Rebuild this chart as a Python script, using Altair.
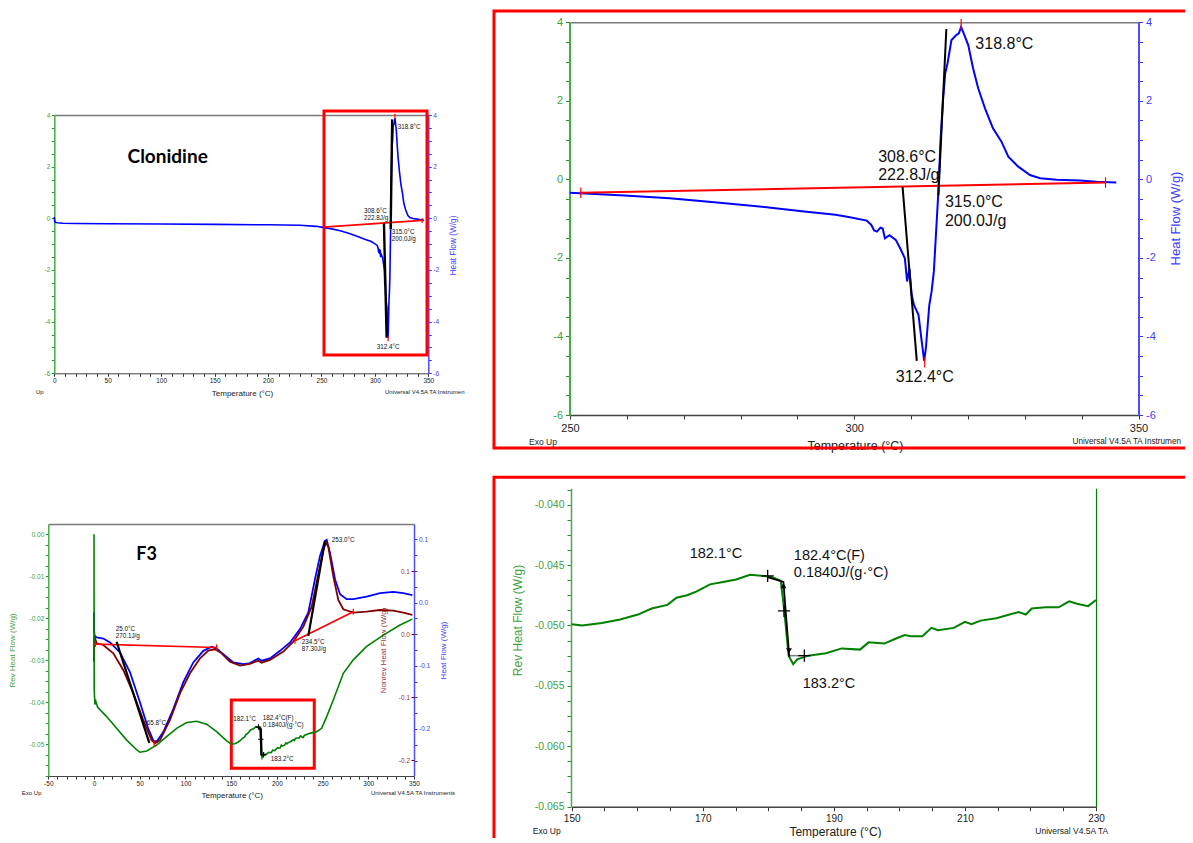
import altair as alt
import pandas as pd

W, H, M = 1177, 830, 8
FONT = "Liberation Sans"
TITLE_FONT = "Lato"

GREEN = "#008000"
GREEN_DOM = "#45ad45"
GREEN_LAB = "#3f9f3f"
BLUE = "#0000ff"
BLUE_DOM = "#4d4dff"
BLUE_LAB = "#4040ff"
DRED = "#800000"
DRED_LAB = "#a03434"
RED = "#ff0000"

# ---------------- Clonidine: Heat Flow (W/g) vs Temperature (°C) ----------------
clon_temp = [0.0, 0.3, 1.0, 3.0, 8.0, 20.0, 50.0, 100.0, 150.0, 200.0,
             230.0, 245.0, 250.0, 259.6, 267.5, 275.4, 283.3, 291.2, 296.7, 299.0,
             302.2, 303.0, 303.5, 304.0, 304.6, 305.0, 305.4, 306.2, 307.3, 308.1,
             308.9, 309.3, 309.7, 310.1, 310.5, 311.3, 311.8, 312.3, 312.6, 313.2,
             313.6, 314.0, 314.4, 314.8, 315.2, 315.6, 316.0, 316.4, 317.1, 318.0,
             318.4, 318.8, 319.3, 320.05, 320.9, 321.8, 323.0, 324.4, 325.9, 327.1,
             328.8, 330.9, 332.7, 335.6, 339.7, 342.6, 346.1]
clon_hf = [0.05, -0.10, -0.15, -0.17, -0.19, -0.20, -0.21, -0.22, -0.235, -0.25,
           -0.27, -0.31, -0.34, -0.41, -0.48, -0.58, -0.69, -0.82, -0.90, -0.96,
           -1.05, -1.16, -1.30, -1.33, -1.23, -1.25, -1.50, -1.42, -1.54, -1.76,
           -2.01, -2.60, -2.27, -2.94, -3.20, -3.45, -4.05, -4.62, -4.30, -3.20,
           -2.86, -2.35, -1.33, -0.31, 1.05, 2.00, 2.70, 2.95, 3.55, 3.68,
           3.72, 3.88, 3.70, 3.42, 2.83, 2.32, 1.81, 1.30, 0.96, 0.58,
           0.33, 0.11, 0.03, -0.01, -0.03, -0.06, -0.08]
clon_base_temp = [251.9, 344.2]
clon_base_hf = [-0.34, -0.08]
clon_tan_temp = [308.5, 311.0, 314.8, 316.2]
clon_tan_hf = [-0.19, -4.62, -0.41, 3.83]
clon_tan_grp = ["a", "a", "b", "b"]
clon_mark_temp = [251.9, 344.2, 312.4, 318.8]
clon_mark_hf = [-0.34, -0.08, -4.66, 3.95]
clon_labels = ["318.8°C", "308.6°C", "222.8J/g", "315.0°C", "200.0J/g", "312.4°C"]
tl_label_temp = [321.4, 289.8, 289.8, 315.7, 315.7, 301.7]
tl_label_hf = [3.55, 0.295, 0.024, -0.52, -0.79, -4.97]
tr_label_temp = [321.3, 304.2, 304.2, 315.95, 315.95, 307.3]
tr_label_hf = [3.44, 0.58, 0.10, -0.57, -1.06, -5.03]

# ---------------- F3: Rev / Nonrev / total heat flow ----------------
f3_rev_temp = ([0.0, 0.2, 1.0, 2.0, 4.0, 13.8, 24.7, 35.7, 46.6, 50.3,
                57.6, 68.5, 79.4, 90.4, 101.3, 112.3, 123.2, 134.1, 145.1]
               + [150.0, 151.6, 154.6, 157.4, 160.1, 162.2, 164.6, 166.0, 167.6, 169.0,
                  171.1, 173.1, 175.1, 177.2, 179.3, 180.6, 181.9, 182.4, 183.1, 183.8,
                  184.4, 186.1, 188.8, 191.2, 194.0, 195.3, 197.7, 199.4, 200.8, 201.8,
                  203.5, 204.9, 205.9, 208.3, 210.0, 211.0, 212.4, 214.8, 216.8, 218.2,
                  219.3, 220.2, 222.3, 224.3, 225.9, 227.1, 228.8, 230.0]
               + [236.0, 243.5, 249.0, 254.5, 261.8, 272.7, 283.6, 298.2, 316.5, 334.7, 348.2])
f3_rev_flow = ([0.0, -0.0370, -0.0405, -0.0398, -0.0412, -0.0434, -0.0462, -0.0490, -0.0513, -0.0519,
                -0.0516, -0.0502, -0.0482, -0.0462, -0.0448, -0.0445, -0.0452, -0.0470, -0.0492]
               + [-0.0499, -0.0500, -0.0498, -0.0495, -0.0491, -0.0486, -0.0483, -0.0477, -0.0475, -0.0472,
                  -0.0466, -0.0464, -0.0462, -0.0458, -0.0459, -0.0460, -0.0463, -0.0486, -0.0525, -0.0532,
                  -0.0528, -0.0525, -0.0523, -0.0519, -0.0520, -0.0514, -0.0515, -0.0511, -0.0508, -0.0509,
                  -0.0509, -0.0502, -0.0504, -0.0502, -0.0497, -0.0499, -0.0496, -0.0494, -0.0491, -0.0489,
                  -0.0491, -0.0486, -0.0485, -0.0485, -0.0480, -0.0482, -0.0484, -0.0479]
               + [-0.0474, -0.0470, -0.0462, -0.0434, -0.0394, -0.0331, -0.0299, -0.0267, -0.0240, -0.0216, -0.0202])
f3_hf_temp = [0.0, 0.1, 0.7, 2.9, 10.2, 17.5, 28.4, 39.3, 50.3, 59.4,
              64.9, 68.5, 75.8, 86.7, 97.7, 108.6, 119.6, 128.7, 134.1, 141.4,
              152.4, 163.3, 170.6, 179.7, 183.4, 192.5, 203.4, 214.4, 225.3, 234.4,
              241.7, 247.2, 252.6, 254.5, 258.1, 263.6, 269.1, 276.3, 283.6, 298.2,
              312.8, 327.4, 338.3, 348.2]
f3_hf = [-0.0158, -0.0450, -0.0527, -0.0553, -0.0569, -0.0632, -0.0790, -0.1100, -0.1580, -0.2000,
         -0.2185, -0.2200, -0.2050, -0.1685, -0.1260, -0.0948, -0.0764, -0.0700, -0.0727, -0.0816,
         -0.0948, -0.0974, -0.0958, -0.0885, -0.0920, -0.0885, -0.0764, -0.0632, -0.0421, -0.0158,
         0.0369, 0.0737, 0.0974, 0.0990, 0.0790, 0.0369, 0.0132, 0.0053, 0.0053, 0.0095,
         0.0147, 0.0168, 0.0147, 0.0116]
f3_nonrev_temp = [0.0, 0.1, 2.9, 10.2, 21.1, 32.0, 43.0, 53.9, 63.0, 66.7,
                  72.2, 83.1, 94.0, 105.0, 116.0, 125.0, 132.3, 139.6, 148.7, 159.7,
                  170.6, 179.7, 183.4, 192.5, 207.1, 218.0, 229.0, 238.1, 245.4, 250.8,
                  253.7, 256.3, 261.8, 267.2, 272.7, 283.6, 298.2, 312.8, 327.4, 338.3, 348.2]
f3_nonrev = [-0.0434, -0.0020, -0.0143, -0.0169, -0.0302, -0.0566, -0.0937, -0.1360, -0.1680, -0.1730,
             -0.1680, -0.1360, -0.0937, -0.0619, -0.0381, -0.0259, -0.0238, -0.0302, -0.0434, -0.0497,
             -0.0471, -0.0418, -0.0450, -0.0407, -0.0275, -0.0116, 0.0122, 0.0439, 0.0968, 0.1340,
             0.1455, 0.1390, 0.0915, 0.0545, 0.0397, 0.0344, 0.0360, 0.0386, 0.0376, 0.0344, 0.0307]
f3_base_temp = [1.5, 134.1, 219.8, 283.6]
f3_base_hf = [-0.0658, -0.0711, -0.0606, -0.0147]
f3_base_grp = ["a", "a", "b", "b"]
f3_tan_temp = [24.7, 60.5, 234.4, 252.6]
f3_tan_hf = [-0.0621, -0.2220, -0.0527, 0.0974]
f3_tan_grp = ["a", "a", "b", "b"]
f3_mark_temp = [1.5, 134.1, 219.8, 283.6, 65.8]
f3_mark_hf = [-0.0658, -0.0711, -0.0606, -0.0147, -0.2230]
f3_labels = ["25.0°C", "270.1J/g", "65.8°C", "182.1°C", "182.4°C(F)", "0.1840J/(g·°C)",
             "183.2°C", "253.0°C", "234.5°C", "87.30J/g"]
f3_label_temp = [23.7, 23.7, 57.6, 152.3, 184.5, 184.5, 193.2, 260.0, 227.2, 227.2]
f3_label_hf = [-0.0422, -0.0532, -0.191, -0.184, -0.1828, -0.1934, -0.2475, 0.0989, -0.0622, -0.0738]

# glass transition construction (rev heat flow)
tg_line_temp = [179.9, 182.3, 183.2]
tg_line_flow = [-0.0460, -0.0464, -0.0526]
tg_step_temp = [183.2, 185.4]
tg_step_flow = [-0.0525, -0.0525]
tg_cross_temp = [179.9, 182.4, 185.5]
tg_cross_flow = [-0.0459, -0.0488, -0.0525]
tg_up_temp, tg_up_flow = [182.3], [-0.0467]
tg_down_temp, tg_down_flow = [183.15], [-0.0521]
tg_labels = ["182.1°C", "182.4°C(F)", "0.1840J/(g·°C)", "183.2°C"]
tg_label_temp = [168.0, 183.9, 183.9, 185.25]
tg_label_flow = [-0.04409, -0.04423, -0.04566, -0.05488]

# tick values
tl_x_ticks = [10 * i for i in range(36)]
tr_x_ticks = [250 + 10 * i for i in range(11)]
hf_y_ticks = [round(-6 + 0.5 * i, 2) for i in range(21)]
bl_x_ticks = [-50 + 10 * i for i in range(41)]
bl_rev_ticks = [round(-0.0575 + 0.0025 * i, 4) for i in range(24)]
bl_hf_ticks = [round(-0.25 + 0.025 * i, 3) for i in range(15)]
bl_nonrev_ticks = [-0.2, -0.1, 0.0, 0.1]
br_x_ticks = [150 + 5 * i for i in range(17)]
br_y_ticks = [round(-0.065 + 0.00125 * i, 5) for i in range(22)]


def P(v):
    return v - M


def sc(dom, lo, hi):
    return alt.Scale(domain=dom, range=[P(lo), P(hi)], nice=False, zero=False)


TL_X = sc([0, 350], 54.3, 428.3)
TL_Y = sc([-6, 4], 373.3, 115.0)
TR_X = sc([250, 350], 570.0, 1138.5)
TR_Y = sc([-6, 4], 415.0, 22.3)
BL_X = sc([-50, 350], 48.3, 414.0)
BL_YG = sc([-0.05755, 0.00245], 776.0, 524.0)
BL_YB = sc([-0.2744, 0.1242], 776.0, 524.0)
BL_YN = sc([-0.2249, 0.1751], 776.0, 524.0)
BR_X = sc([150, 230], 571.7, 1096.0)
BR_Y = sc([-0.065, -0.03865], 806.7, 488.3)


def lab(cond, fmt):
    return ("(" + cond + ") ? ((datum.value < -0.000000001 ? '-' : '') + format(abs(datum.value), '"
            + fmt + "')) : ''")


def xb(ypage, values, cond, fmt, lsize, tsize, tick, pad, tcx, tcy, dw=1.0):
    return alt.Axis(orient="bottom", offset=P(ypage) - H, values=values,
                    labelExpr=lab(cond, fmt), labelFontSize=lsize, labelColor="#222222",
                    labelFont=FONT, labelPadding=pad, labelOverlap=False, labelFlush=False,
                    tickSize=tick, tickColor="#333333", domainColor="#444444", domainWidth=dw,
                    grid=False, title="Temperature (°C)", titleFont=FONT, titleFontSize=tsize,
                    titleFontWeight="normal", titleColor="#222222", titleX=P(tcx),
                    titleY=tcy - ypage, titleAlign="center", titleBaseline="middle")


def xtop(ypage):
    return alt.Axis(orient="top", offset=-P(ypage), ticks=False, labels=False,
                    domainColor="#7a7a7a", domainWidth=1.5, grid=False, title=None)


def yax(orient, xpage, values, cond, fmt, lsize, lcolor, dcolor, tcolor, tick, pad,
        title=None, tsize=10, tcx=0.0, tcy=0.0, domain=True, dw=1.0):
    off = -P(xpage) if orient == "left" else P(xpage) - W
    kw = dict(orient=orient, offset=off, values=values, labelExpr=lab(cond, fmt),
              labelFontSize=lsize, labelColor=lcolor, labelFont=FONT, labelPadding=pad,
              labelOverlap=False, labelFlush=False, tickSize=tick, tickColor=tcolor,
              domain=domain, domainColor=dcolor, domainWidth=dw, grid=False)
    if title:
        kw.update(title=title, titleFont=FONT, titleFontSize=tsize, titleFontWeight="normal",
                  titleColor=lcolor, titleX=tcx - xpage, titleY=P(tcy), titleAngle=270,
                  titleAlign="center", titleBaseline="middle")
    else:
        kw.update(title=None)
    return alt.Axis(**kw)


def df_xy(t, v, g=None, s=None):
    d = {"t": t, "v": v, "i": list(range(len(t)))}
    d["g"] = g if g is not None else ["a"] * len(t)
    if s is not None:
        d["s"] = s
    return pd.DataFrame(d)


def line(df, xs, ys, color, width, xaxis=None, yaxis=None, filt=None, dash=None):
    kw = dict(color=color, strokeWidth=width)
    if dash:
        kw["strokeDash"] = dash
    ch = alt.Chart(df).mark_line(**kw)
    if filt is not None:
        ch = ch.transform_filter(filt)
    return ch.encode(x=alt.X("t:Q", scale=xs, axis=xaxis),
                     y=alt.Y("v:Q", scale=ys, axis=yaxis),
                     detail="g:N", order=alt.Order("i:Q"))


def points(df, xs, ys, color, shape, size, width=1.2, filled=False):
    return alt.Chart(df).mark_point(shape=shape, size=size, color=color, strokeWidth=width,
                                    filled=filled, opacity=1).encode(
        x=alt.X("t:Q", scale=xs, axis=None), y=alt.Y("v:Q", scale=ys, axis=None))


def texts(df, xs, ys, size, color="#111111", align="left", font=FONT, weight="normal"):
    return alt.Chart(df).mark_text(align=align, baseline="middle", fontSize=size, font=font,
                                   fontWeight=weight, color=color).encode(
        x=alt.X("t:Q", scale=xs, axis=None), y=alt.Y("v:Q", scale=ys, axis=None), text="s:N")


def box(x1, x2, y1, y2, xs, ys, width):
    d = pd.DataFrame({"t": [x1], "t2": [x2], "v": [y1], "v2": [y2]})
    return alt.Chart(d).mark_rect(fillOpacity=0, stroke=RED, strokeWidth=width).encode(
        x=alt.X("t:Q", scale=xs, axis=None), x2="t2:Q",
        y=alt.Y("v:Q", scale=ys, axis=None), y2="v2:Q")


VTICK = "M0,-1L0,1"
CROSS = "M-1,0L1,0M0,-1L0,1"

clon = df_xy(clon_temp, clon_hf)
clon_base = df_xy(clon_base_temp, clon_base_hf)
clon_tan = df_xy(clon_tan_temp, clon_tan_hf, clon_tan_grp)
clon_mark = df_xy(clon_mark_temp, clon_mark_hf)

layers = []

# ================= Top-left: Clonidine overview =================
layers += [
    box(252.4, 348.8, 4.155, -5.29, TL_X, TL_Y, 3),
    line(clon, TL_X, TL_Y, BLUE, 1.6,
         xaxis=xb(373.3, tl_x_ticks, "datum.value % 50 == 0", "d", 6.5, 8, 3, 1.5, 242, 393.3),
         yaxis=yax("left", 54.3, hf_y_ticks, "datum.value % 2 == 0", "d", 6.5,
                   GREEN_LAB, GREEN_DOM, "#2e8b2e", 3, 1.5, dw=1.5)),
    line(clon_base, TL_X, TL_Y, RED, 1.6, xaxis=xtop(115.0),
         yaxis=yax("right", 428.3, hf_y_ticks, "datum.value % 2 == 0", "d", 6.5,
                   BLUE_LAB, BLUE_DOM, "#3333ff", 3, 1.5, title="Heat Flow (W/g)",
                   tsize=8.3, tcx=453, tcy=245, dw=1.5)),
    line(clon_tan, TL_X, TL_Y, "#000000", 2.4),
    points(clon_mark, TL_X, TL_Y, RED, VTICK, 25),
    texts(df_xy(tl_label_temp, tl_label_hf, s=clon_labels), TL_X, TL_Y, 6.3),
    texts(df_xy([106.1], [2.39], s=["Clonidine"]), TL_X, TL_Y, 19, color="#000000",
          align="center", font=TITLE_FONT, weight="bold"),
    texts(df_xy([-17.1, 309.5], [-6.72, -6.72], s=["Up", "Universal V4.5A TA Instrumen"]),
          TL_X, TL_Y, 6, color="#222222"),
]

# ================= Top-right: Clonidine zoom =================
layers += [
    box(236.63, 362.0, 4.288, -6.84, TR_X, TR_Y, 3),
    line(clon, TR_X, TR_Y, BLUE, 2.0, filt=alt.datum.t >= 250,
         xaxis=xb(415.0, tr_x_ticks, "datum.value % 50 == 0", "d", 11, 12.5, 4, 3, 855, 445, dw=1.5),
         yaxis=yax("left", 569.5, hf_y_ticks, "datum.value % 2 == 0", "d", 11,
                   GREEN_LAB, GREEN_DOM, "#2e8b2e", 4, 3, dw=2)),
    line(clon_base, TR_X, TR_Y, RED, 2.0, xaxis=xtop(22.3),
         yaxis=yax("right", 1138.5, hf_y_ticks, "datum.value % 2 == 0", "d", 11,
                   BLUE_LAB, BLUE_DOM, "#3333ff", 4, 3, title="Heat Flow (W/g)",
                   tsize=13, tcx=1175, tcy=218, dw=2)),
    line(clon_tan, TR_X, TR_Y, "#000000", 2.0),
    points(clon_mark, TR_X, TR_Y, RED, VTICK, 110),
    texts(df_xy(tr_label_temp, tr_label_hf, s=clon_labels), TR_X, TR_Y, 16),
    texts(df_xy([245.25], [-6.70], s=["Exo Up"]), TR_X, TR_Y, 8.5, color="#222222", align="center"),
    texts(df_xy([338.4], [-6.70], s=["Universal V4.5A TA Instrumen"]), TR_X, TR_Y, 8.2,
          color="#222222"),
]

# ================= Bottom-left: F3 overview =================
f3_rev = df_xy(f3_rev_temp, f3_rev_flow)
f3_tot = df_xy(f3_hf_temp, f3_hf)
f3_nr = df_xy(f3_nonrev_temp, f3_nonrev)
layers += [
    box(150.2, 240.9, -0.1543, -0.2622, BL_X, BL_YB, 3),
    line(f3_tot, BL_X, BL_YB, BLUE, 1.8, xaxis=xtop(524.0),
         yaxis=yax("right", 414.0, bl_hf_ticks, "round(datum.value * 40) % 4 == 0", ".1f", 6.5,
                   BLUE_LAB, BLUE_DOM, "#3333ff", 3, 1.5, title="Heat Flow (W/g)",
                   tsize=8, tcx=443.3, tcy=650, dw=1.5)),
    line(f3_nr, BL_X, BL_YN, DRED, 1.8,
         yaxis=yax("left", 414.0, bl_nonrev_ticks, "true", ".1f", 6.5, DRED_LAB, DRED, DRED, 3, 1.5,
                   title="Nonrev Heat Flow (W/g)", tsize=8, tcx=383, tcy=650, domain=False)),
    line(f3_rev, BL_X, BL_YG, GREEN, 1.6,
         xaxis=xb(776.0, bl_x_ticks, "datum.value % 50 == 0", "d", 6.5, 8, 3, 1.5, 231.7, 795.3),
         yaxis=yax("left", 48.3, bl_rev_ticks, "round(datum.value * 400) % 4 == 0", ".2f", 6.5,
                   GREEN_LAB, GREEN_DOM, "#2e8b2e", 3, 1.5, title="Rev Heat Flow (W/g)",
                   tsize=8, tcx=12.7, tcy=650, dw=1.5)),
    line(df_xy(f3_base_temp, f3_base_hf, f3_base_grp), BL_X, BL_YB, RED, 1.6),
    line(df_xy(f3_tan_temp, f3_tan_hf, f3_tan_grp), BL_X, BL_YB, "#000000", 2.2),
    line(df_xy(tg_line_temp, tg_line_flow), BL_X, BL_YG, "#000000", 2.4),
    points(df_xy(tg_cross_temp, tg_cross_flow), BL_X, BL_YG, "#000000", CROSS, 30),
    points(df_xy(f3_mark_temp, f3_mark_hf), BL_X, BL_YB, RED, VTICK, 36),
    texts(df_xy(f3_label_temp, f3_label_hf, s=f3_labels), BL_X, BL_YB, 6.3),
    texts(df_xy([57.6], [0.0758], s=["F3"]), BL_X, BL_YB, 18, color="#000000",
          align="center", font=TITLE_FONT, weight="bold"),
    texts(df_xy([-68.2, 348.9], [-0.301, -0.301], s=["Exo Up", "Universal V4.5A TA Instruments"]),
          BL_X, BL_YB, 6, color="#222222", align="center"),
]

# ================= Bottom-right: glass transition zoom =================
br_right_axis = alt.Axis(orient="right", offset=P(1096.0) - W, ticks=False, labels=False,
                         domainColor=GREEN, domainWidth=1.2, grid=False, title=None)
layers += [
    box(138.14, 250.0, -0.03774, -0.0700, BR_X, BR_Y, 3),
    line(f3_rev, BR_X, BR_Y, GREEN, 2.0,
         filt=(alt.datum.t >= 150) & (alt.datum.t <= 230),
         xaxis=xb(806.7, br_x_ticks, "(datum.value - 150) % 20 == 0", "d", 10, 12, 4, 3, 835, 831.5,
                  dw=1.5),
         yaxis=yax("left", 571.0, br_y_ticks, "round(datum.value * 800) % 4 == 0", ".3f", 10.5,
                   GREEN_LAB, GREEN_DOM, "#2e8b2e", 4, 3, title="Rev Heat Flow (W/g)",
                   tsize=12, tcx=517.8, tcy=620, dw=1.5)),
    line(df_xy(tg_step_temp, tg_step_flow), BR_X, BR_Y, "#808080", 1.5, yaxis=br_right_axis),
    line(df_xy(tg_line_temp, tg_line_flow), BR_X, BR_Y, "#000000", 1.8),
    points(df_xy(tg_cross_temp, tg_cross_flow), BR_X, BR_Y, "#000000", CROSS, 150, width=1.3),
    points(df_xy(tg_up_temp, tg_up_flow), BR_X, BR_Y, "#000000", "triangle-up", 35, filled=True),
    points(df_xy(tg_down_temp, tg_down_flow), BR_X, BR_Y, "#000000", "triangle-down", 35, filled=True),
    texts(df_xy(tg_label_temp, tg_label_flow, s=tg_labels), BR_X, BR_Y, 14.5),
    texts(df_xy([146.2, 226.3], [-0.06703, -0.06703], s=["Exo Up", "Universal V4.5A TA"]),
          BR_X, BR_Y, 8.5, color="#222222", align="center"),
]

chart = alt.layer(*layers).resolve_scale(
    x="independent", y="independent"
).properties(
    width=W, height=H, padding=0, background="white",
    autosize=alt.AutoSizeParams(type="none"),
).configure_view(stroke=None)

chart.save("out.html", embed_options={"renderer": "svg", "actions": False})
